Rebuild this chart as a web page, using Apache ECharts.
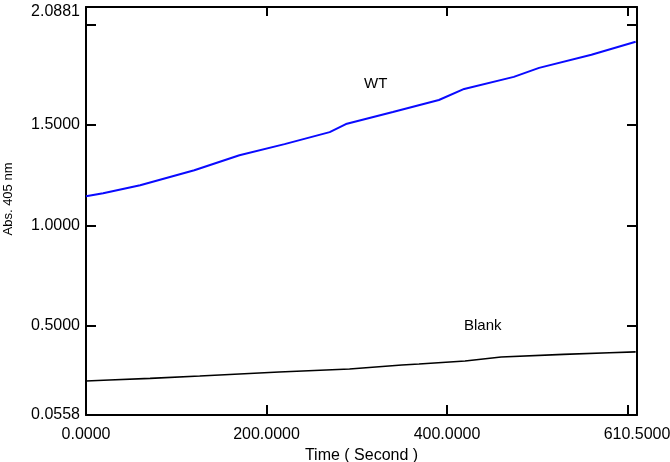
<!DOCTYPE html>
<html>
<head>
<meta charset="utf-8">
<script src="https://cdn.jsdelivr.net/npm/echarts@6/dist/echarts.min.js"></script>
<style>html,body{margin:0;padding:0;background:#fff}#c{width:670px;height:462px}</style>
</head>
<body>
<div id="c"></div>
<script>
// Data
const wtTime  = [0, 19, 60, 120, 170, 220, 270, 288, 340, 391, 419, 474, 502, 560, 609];
const wtAbs   = [1.145, 1.16, 1.20, 1.275, 1.35, 1.405, 1.465, 1.505, 1.565, 1.625, 1.68, 1.74, 1.785, 1.85, 1.915];
const blankTime = [0, 26, 71, 126, 214, 292, 350, 369, 420, 460, 529, 580, 609];
const blankAbs  = [0.225, 0.23, 0.238, 0.25, 0.27, 0.285, 0.305, 0.31, 0.325, 0.345, 0.358, 0.366, 0.37];
const xTickValues = [0, 200, 400, 600];
const xLabelValues = [0, 200, 400, 610.5];
const yTickValues = [0.5, 1.0, 1.5, 2.0];
const yLabelValues = [0.0558, 0.5, 1.0, 1.5, 2.0881];
const xMin = 0, xMax = 610.5, yMin = 0.0558, yMax = 2.0881;
const seriesNames = ['WT', 'Blank'];
const xTitle = 'Time ( Second )';
const yTitle = 'Abs. 405 nm';

const font = 'Liberation Sans, Arial, sans-serif';
const chart = echarts.init(document.getElementById('c'));
const axisLine = {show: true, onZero: false, lineStyle: {color: '#000', width: 2}};
const tickStyle = {lineStyle: {color: '#000', width: 2}};
function xAxis(pos, showLabels) {
  return {
    type: 'value', position: pos, min: xMin, max: xMax,
    axisLine: axisLine, splitLine: {show: false},
    axisTick: Object.assign({show: true, inside: true, length: showLabels ? 10 : 9, customValues: xTickValues}, tickStyle),
    axisLabel: {show: showLabels, customValues: xLabelValues, color: '#000', fontFamily: font, fontSize: 16, margin: 12,
      formatter: v => v.toFixed(4)},
    name: showLabels ? xTitle : '', nameLocation: 'middle', nameGap: 29,
    nameTextStyle: {color: '#000', fontFamily: font, fontSize: 16}
  };
}
function yAxis(pos, showLabels) {
  return {
    type: 'value', position: pos, min: yMin, max: yMax,
    axisLine: axisLine, splitLine: {show: false},
    axisTick: Object.assign({show: true, inside: true, length: 10, customValues: yTickValues}, tickStyle),
    axisLabel: {show: showLabels, customValues: yLabelValues, color: '#000', fontFamily: font, fontSize: 16, margin: 6,
      verticalAlign: 'middle', lineHeight: 16,
      formatter: v => v === yMax ? '{top|' + v.toFixed(4) + '}' : v.toFixed(4),
      rich: {top: {fontFamily: font, fontSize: 16, color: '#000', lineHeight: 16, padding: [10, 0, 0, 0]}}}
  };
}
chart.setOption({
  animation: false,
  backgroundColor: '#fff',
  grid: {left: 86, right: 33, top: 7, bottom: 47, containLabel: false, outerBoundsMode: 'none'},
  xAxis: [xAxis('bottom', true), xAxis('top', false)],
  yAxis: [yAxis('left', true), yAxis('right', false)],
  series: [
    {name: seriesNames[0], type: 'line', showSymbol: false, symbol: 'none',
     data: wtTime.map((t, i) => [t, wtAbs[i]]),
     lineStyle: {color: '#0a0aff', width: 2}},
    {name: seriesNames[1], type: 'line', showSymbol: false, symbol: 'none',
     data: blankTime.map((t, i) => [t, blankAbs[i]]),
     lineStyle: {color: '#000', width: 1.6}}
  ],
  graphic: [
    {type: 'text', left: 364, top: 76, style: {text: seriesNames[0], font: '15px ' + font, fill: '#000'}},
    {type: 'text', left: 464, top: 318, style: {text: seriesNames[1], font: '15px ' + font, fill: '#000'}},
    {type: 'text', x: 8, y: 199, rotation: Math.PI / 2,
     style: {text: yTitle, font: '13px ' + font, fill: '#000', align: 'center', verticalAlign: 'middle'}}
  ]
});
</script>
</body>
</html>
